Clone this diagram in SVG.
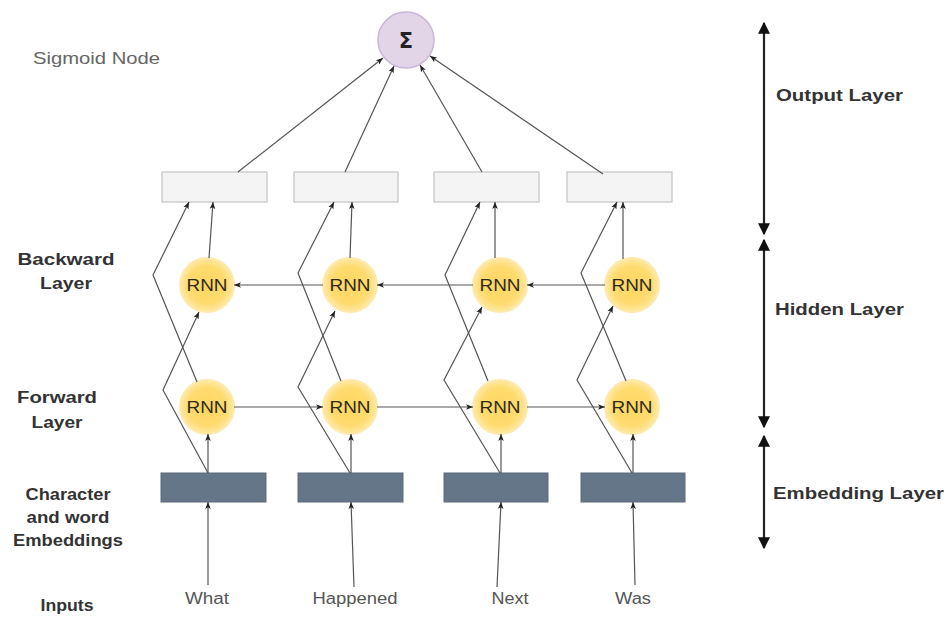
<svg xmlns="http://www.w3.org/2000/svg" width="948" height="619" viewBox="0 0 948 619">
  <defs>
    <style>
      .lbl { font-family: "Liberation Sans", Arial, sans-serif; }
      .side { font-weight: bold; font-size: 16px; fill: #333; }
      .layer { font-weight: bold; font-size: 17px; fill: #333; }
      .word { font-size: 16px; fill: #555; }
      .rnn-t { font-size: 16px; fill: #2e2a1a; }
      .edge { fill: none; stroke: #555; stroke-width: 1.2; marker-end: url(#ah); }
      .span { fill: none; stroke: #222; stroke-width: 2.2; marker-start: url(#big); marker-end: url(#big); }
      .outbox { fill: #f4f4f4; stroke: #c4c4c4; stroke-width: 1.2; }
      .embbox { fill: #647687; stroke: #5a6a7c; stroke-width: 1; }
      .rnn { fill: url(#rnnFill); stroke: #ffe9ad; stroke-width: 2; }
    </style>
    <radialGradient id="rnnFill" cx="50%" cy="50%" r="50%">
      <stop offset="0%" stop-color="#ffd761"/>
      <stop offset="70%" stop-color="#ffdb6f"/>
      <stop offset="100%" stop-color="#ffe9a6"/>
    </radialGradient>
    <marker id="ah" viewBox="0 0 10 10" refX="10" refY="5" markerWidth="7" markerHeight="7" markerUnits="userSpaceOnUse" orient="auto">
      <path d="M0,1 L10,5 L0,9 L2.5,5 z" fill="#222"/>
    </marker>
    <marker id="big" viewBox="0 0 10 10" refX="9" refY="5" markerWidth="12" markerHeight="12" markerUnits="userSpaceOnUse" orient="auto-start-reverse">
      <path d="M0,0 L10,5 L0,10 z" fill="#111"/>
    </marker>
  </defs>

  <rect width="948" height="619" fill="#ffffff"/>

  <!-- left side captions -->
  <g id="captions" class="lbl">
    <text x="33" y="64" font-size="17" fill="#666" textLength="127" lengthAdjust="spacingAndGlyphs">Sigmoid Node</text>
    <text class="side" x="66" y="265" text-anchor="middle" textLength="97" lengthAdjust="spacingAndGlyphs">Backward</text>
    <text class="side" x="66" y="289" text-anchor="middle" textLength="52" lengthAdjust="spacingAndGlyphs">Layer</text>
    <text class="side" x="57" y="403" text-anchor="middle" textLength="80" lengthAdjust="spacingAndGlyphs">Forward</text>
    <text class="side" x="57" y="428" text-anchor="middle" textLength="51" lengthAdjust="spacingAndGlyphs">Layer</text>
    <text class="side" x="68" y="500" text-anchor="middle" textLength="85" lengthAdjust="spacingAndGlyphs">Character</text>
    <text class="side" x="68" y="523" text-anchor="middle" textLength="83" lengthAdjust="spacingAndGlyphs">and word</text>
    <text class="side" x="68" y="546" text-anchor="middle" textLength="110" lengthAdjust="spacingAndGlyphs">Embeddings</text>
    <text class="side" x="67" y="611" text-anchor="middle" textLength="53" lengthAdjust="spacingAndGlyphs">Inputs</text>
  </g>

  <!-- layer spans on the right -->
  <g id="layer-spans" class="lbl">
    <line class="span" x1="764" y1="23" x2="764" y2="234"/>
    <line class="span" x1="764" y1="240" x2="764" y2="427"/>
    <line class="span" x1="764" y1="436" x2="764" y2="548"/>
    <text class="layer" x="776" y="101" textLength="127" lengthAdjust="spacingAndGlyphs">Output Layer</text>
    <text class="layer" x="775" y="315" textLength="129" lengthAdjust="spacingAndGlyphs">Hidden Layer</text>
    <text class="layer" x="773" y="499" textLength="171" lengthAdjust="spacingAndGlyphs">Embedding Layer</text>
  </g>

  <!-- sigmoid node -->
  <g id="sigmoid">
    <circle cx="406" cy="40" r="28" fill="#e1d5e7" stroke="#c9b6d6" stroke-width="1.5"/>
    <text x="406" y="48" text-anchor="middle" font-family="'DejaVu Sans', sans-serif" font-weight="bold" font-size="21" fill="#222">Σ</text>
  </g>

  <!-- output cells -->
  <g id="out1"><rect class="outbox" x="162" y="172" width="105" height="30"/></g>
  <g id="out2"><rect class="outbox" x="294" y="172" width="104" height="30"/></g>
  <g id="out3"><rect class="outbox" x="434" y="172" width="105" height="30"/></g>
  <g id="out4"><rect class="outbox" x="567" y="172" width="105" height="30"/></g>

  <!-- backward RNN cells -->
  <g id="bwd1" class="lbl"><circle class="rnn" cx="207" cy="285" r="27"/><text class="rnn-t" x="207" y="291" text-anchor="middle" textLength="41" lengthAdjust="spacingAndGlyphs">RNN</text></g>
  <g id="bwd2" class="lbl"><circle class="rnn" cx="350" cy="285" r="27"/><text class="rnn-t" x="350" y="291" text-anchor="middle" textLength="41" lengthAdjust="spacingAndGlyphs">RNN</text></g>
  <g id="bwd3" class="lbl"><circle class="rnn" cx="500" cy="285" r="27"/><text class="rnn-t" x="500" y="291" text-anchor="middle" textLength="41" lengthAdjust="spacingAndGlyphs">RNN</text></g>
  <g id="bwd4" class="lbl"><circle class="rnn" cx="632" cy="285" r="27"/><text class="rnn-t" x="632" y="291" text-anchor="middle" textLength="41" lengthAdjust="spacingAndGlyphs">RNN</text></g>

  <!-- forward RNN cells -->
  <g id="fwd1" class="lbl"><circle class="rnn" cx="207" cy="407" r="27"/><text class="rnn-t" x="207" y="413" text-anchor="middle" textLength="41" lengthAdjust="spacingAndGlyphs">RNN</text></g>
  <g id="fwd2" class="lbl"><circle class="rnn" cx="350" cy="407" r="27"/><text class="rnn-t" x="350" y="413" text-anchor="middle" textLength="41" lengthAdjust="spacingAndGlyphs">RNN</text></g>
  <g id="fwd3" class="lbl"><circle class="rnn" cx="500" cy="407" r="27"/><text class="rnn-t" x="500" y="413" text-anchor="middle" textLength="41" lengthAdjust="spacingAndGlyphs">RNN</text></g>
  <g id="fwd4" class="lbl"><circle class="rnn" cx="632" cy="407" r="27"/><text class="rnn-t" x="632" y="413" text-anchor="middle" textLength="41" lengthAdjust="spacingAndGlyphs">RNN</text></g>

  <!-- embedding cells -->
  <g id="emb1"><rect class="embbox" x="161" y="473" width="105" height="29"/></g>
  <g id="emb2"><rect class="embbox" x="298" y="473" width="105" height="29"/></g>
  <g id="emb3"><rect class="embbox" x="444" y="473" width="104" height="29"/></g>
  <g id="emb4"><rect class="embbox" x="581" y="473" width="104" height="29"/></g>

  <!-- input words -->
  <g id="inputs" class="lbl">
    <text class="word" x="207" y="604" text-anchor="middle" textLength="44" lengthAdjust="spacingAndGlyphs">What</text>
    <text class="word" x="355" y="604" text-anchor="middle" textLength="85" lengthAdjust="spacingAndGlyphs">Happened</text>
    <text class="word" x="510" y="604" text-anchor="middle" textLength="37" lengthAdjust="spacingAndGlyphs">Next</text>
    <text class="word" x="633" y="604" text-anchor="middle" textLength="36" lengthAdjust="spacingAndGlyphs">Was</text>
  </g>

  <!-- connectors -->
  <g id="connectors">
    <!-- output cells to sigmoid -->
    <line class="edge" x1="238" y1="172" x2="383" y2="58"/>
    <line class="edge" x1="345" y1="172" x2="394" y2="66"/>
    <line class="edge" x1="482" y1="172" x2="420" y2="65"/>
    <line class="edge" x1="603" y1="174" x2="430" y2="56"/>

    <!-- backward cells up to output cells -->
    <line class="edge" x1="209" y1="258" x2="213" y2="202"/>
    <line class="edge" x1="350" y1="258" x2="352" y2="202"/>
    <line class="edge" x1="495" y1="258" x2="495" y2="202"/>
    <line class="edge" x1="623" y1="259" x2="623" y2="202"/>

    <!-- forward cells up to output cells -->
    <polyline class="edge" points="197,382 153,275 189,202"/>
    <polyline class="edge" points="341,381 298,273 334,202"/>
    <polyline class="edge" points="488,381 445,275 480,202"/>
    <polyline class="edge" points="626,381 581,273 617,202"/>

    <!-- embeddings up to backward cells -->
    <polyline class="edge" points="208,473 163,390 199,312"/>
    <polyline class="edge" points="350,473 298,387 335,311"/>
    <polyline class="edge" points="500,473 444,380 482,307"/>
    <polyline class="edge" points="632,473 577,380 613,306"/>

    <!-- embeddings up to forward cells -->
    <line class="edge" x1="208" y1="473" x2="208" y2="434"/>
    <line class="edge" x1="351" y1="473" x2="351" y2="434"/>
    <line class="edge" x1="501" y1="473" x2="501" y2="434"/>
    <line class="edge" x1="633" y1="473" x2="633" y2="434"/>

    <!-- inputs up to embeddings -->
    <line class="edge" x1="208" y1="585" x2="208" y2="502"/>
    <line class="edge" x1="354" y1="587" x2="351" y2="502"/>
    <line class="edge" x1="497" y1="587" x2="501" y2="502"/>
    <line class="edge" x1="635" y1="585" x2="633" y2="502"/>

    <!-- forward recurrence -->
    <line class="edge" x1="234" y1="407" x2="323" y2="407"/>
    <line class="edge" x1="377" y1="407" x2="473" y2="407"/>
    <line class="edge" x1="527" y1="407" x2="605" y2="407"/>

    <!-- backward recurrence -->
    <line class="edge" x1="323" y1="285" x2="234" y2="285"/>
    <line class="edge" x1="473" y1="285" x2="377" y2="285"/>
    <line class="edge" x1="605" y1="285" x2="527" y2="285"/>
  </g>
</svg>
